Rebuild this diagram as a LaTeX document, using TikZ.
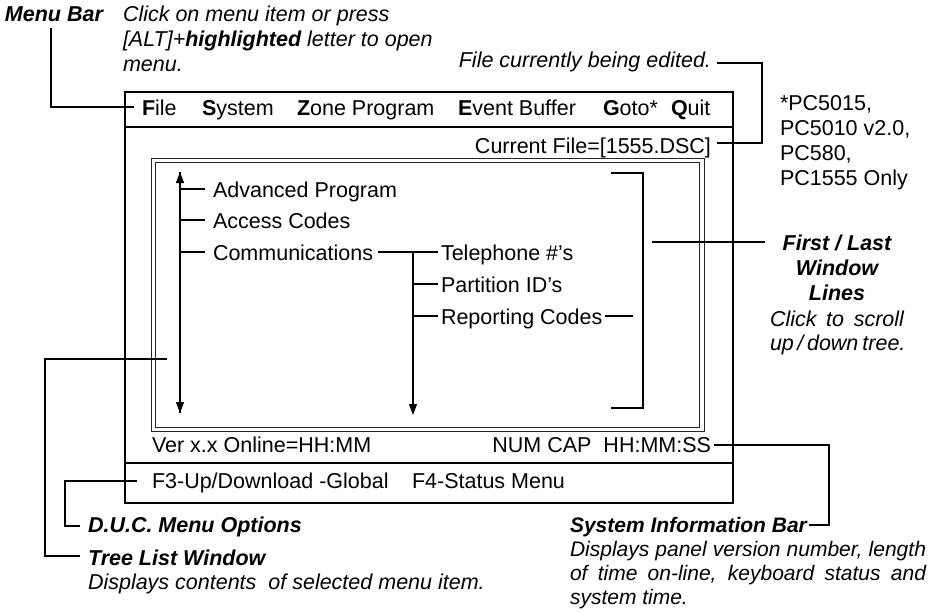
\documentclass[tikz,border=0pt]{standalone}
\usepackage{fontspec}
\setmainfont{Liberation Sans}
\usetikzlibrary{arrows.meta}
\tikzset{
  txt/.style={inner sep=0pt, outer sep=0pt, font=\fontsize{21.5}{25}\selectfont},
  note/.style={inner sep=0pt, outer sep=0pt, font=\fontsize{21.5}{25}\selectfont\itshape},
  head/.style={inner sep=0pt, outer sep=0pt, font=\fontsize{21.5}{25}\selectfont\bfseries\itshape},
  sinote/.style={inner sep=0pt, outer sep=0pt, font=\fontsize{21}{24}\selectfont\itshape},
  sihead/.style={inner sep=0pt, outer sep=0pt, font=\fontsize{21}{24}\selectfont\bfseries\itshape},
  conn/.style={line width=1.1pt},
  tree/.style={line width=1.2pt},
  tip/.style={-{Triangle[width=8pt,length=11pt]}},
  screen/.style={line width=2.5pt},
  sep/.style={line width=1.1pt},
  win/.style={line width=1pt, draw=black!85}
}
\begin{document}
\begin{tikzpicture}[x=1pt,y=-1pt]
\useasboundingbox (0,0) rectangle (929,611);

% screen frame
\draw[screen] (125,92) rectangle (733,503);
\coordinate (sepAl) at (125,127); \coordinate (sepAr) at (733,127);
\coordinate (sepBl) at (125,463); \coordinate (sepBr) at (733,463);
\draw[sep] (sepAl) -- (sepAr);
\draw[sep] (sepBl) -- (sepBr);
\draw[win] (151,158) rectangle (704,431);
\draw[win] (155,162) rectangle (699,427);

% menu bar
\node[txt, anchor=base west] (mfile) at (142,115) {{\bfseries F}ile};
\node[txt, anchor=base west] (msys) at (202,115) {{\bfseries S}ystem};
\node[txt, anchor=base west] (mzone) at (297,115) {{\bfseries Z}one Program};
\node[txt, anchor=base west] (mevent) at (458,115) {{\bfseries E}vent Buffer};
\node[txt, anchor=base west] (mgoto) at (603,115) {{\bfseries G}oto*};
\node[txt, anchor=base west] (mquit) at (671,115) {{\bfseries Q}uit};
\node[txt, anchor=base east] (curfile) at (711,153) {Current File=[1555.DSC]};

% tree list
\node[txt, anchor=base west] (adv) at (213,197) {Advanced Program};
\node[txt, anchor=base west] (acc) at (213,228) {Access Codes};
\node[txt, anchor=base west] (comm) at (213,260) {Communications};
\node[txt, anchor=base west] (tel) at (441,260) {Telephone \#'s};
\node[txt, anchor=base west] (part) at (441,292) {Partition ID's};
\node[txt, anchor=base west] (rep) at (441,324) {Reporting Codes};

\coordinate (lt) at (180,172); \coordinate (lb) at (180,413);
\draw[tree, tip] (lb) -- (lt);
\draw[tree, tip] (lt) -- (lb);
\coordinate (advL) at (180,189); \coordinate (advR) at (205,189);
\coordinate (accL) at (180,220); \coordinate (accR) at (205,220);
\coordinate (comL) at (180,252); \coordinate (comR) at (205,252);
\draw[tree] (advL) -- (advR);
\draw[tree] (accL) -- (accR);
\draw[tree] (comL) -- (comR);
\coordinate (c2b) at (438,252);
\draw[tree] ([xshift=5pt]comm.east |- c2b) -- (c2b);
\coordinate (st) at (413,252); \coordinate (sb) at (413,415);
\draw[tree, tip] (st) -- (sb);
\coordinate (ptL) at (413,284); \coordinate (ptR) at (438,284);
\coordinate (rpL) at (413,316); \coordinate (rpR) at (438,316);
\draw[tree] (ptL) -- (ptR);
\draw[tree] (rpL) -- (rpR);
\coordinate (rxB) at (633,316);
\draw[tree] ([xshift=3pt]rep.east |- rxB) -- (rxB);

% first / last bracket
\coordinate (bt) at (611,173); \coordinate (bb) at (611,408);
\coordinate (bx) at (643,0);
\draw[conn] (bt) -- (bt -| bx) -- (bb -| bx) -- (bb);
\coordinate (flA) at (652,242); \coordinate (flB) at (765,242);
\draw[conn] (flA) -- (flB);

% status lines
\node[txt, anchor=base west] (ver) at (152,452) {Ver x.x Online=HH:MM};
\node[txt, anchor=base east] (numcap) at (711,452) {NUM CAP\ \ HH:MM:SS};
\node[txt, anchor=base west] (f3) at (152,488) {F3-Up/Download -Global};
\node[txt, anchor=base west] (f4) at (412,488) {F4-Status Menu};

% callouts top
\node[head, anchor=base west] (menubar) at (5,21) {Menu Bar};
\node[note, anchor=base west] (md1) at (123,21) {Click on menu item or press};
\node[note, anchor=base west] (md2) at (123,46) {[ALT]+{\bfseries highlighted} letter to open};
\node[note, anchor=base west] (md3) at (123,71) {menu.};
\coordinate (mbT) at (51,28); \coordinate (mbE) at (134,107);
\draw[conn] (mbT) |- (mbE);

\node[note, anchor=base east] (fced) at (711,67) {File currently being edited.};
\coordinate (feA) at (717,63); \coordinate (feB) at (762,63);
\coordinate (feC) at (717,143);
\draw[conn] (feA) -- (feB) |- (feC);

\node[txt, anchor=base west] (pc1) at (780,110) {*PC5015,};
\node[txt, anchor=base west] (pc2) at (780,135) {PC5010 v2.0,};
\node[txt, anchor=base west] (pc3) at (780,160) {PC580,};
\node[txt, anchor=base west] (pc4) at (780,185) {PC1555 Only};

\node[head, anchor=base] (fl1) at (837,250) {First / Last};
\node[head, anchor=base] (fl2) at (837,275) {Window};
\node[head, anchor=base] (fl3) at (837,300) {Lines};
\node[note, anchor=base] (fl4) at (837,326) {\makebox[134pt][s]{Click to scroll}};
\node[note, anchor=base] (fl5) at (837,350) {\makebox[134pt][s]{up\,/\,down tree.}};

% callouts bottom
\coordinate (tlA) at (167,359); \coordinate (tlX) at (45,0);
\coordinate (tlE) at (80,556);
\draw[conn] (tlA) -- (tlA -| tlX) |- (tlE);
\node[head, anchor=base west] (tlw) at (88,565) {Tree List Window};
\node[note, anchor=base west] (tlwd) at (88,589) {Displays contents\ \ of selected menu item.};

\coordinate (duA) at (137,481); \coordinate (duX) at (65,0);
\coordinate (duE) at (80,526);
\draw[conn] (duA) -- (duA -| duX) |- (duE);
\node[head, anchor=base west] (duc) at (88,532) {D.U.C. Menu Options};

\node[sihead, anchor=base west] (sib) at (570,532) {System Information Bar};
\coordinate (siA) at (714,445); \coordinate (siX) at (829,0);
\draw[conn] (siA) -- (siA -| siX) |- ([xshift=2pt]sib.east |- 0,525);
\node[sinote, anchor=base west] (sd1) at (570,556) {\makebox[356pt][s]{Displays panel version number, length}};
\node[sinote, anchor=base west] (sd2) at (570,580) {\makebox[356pt][s]{of time on-line, keyboard status and}};
\node[sinote, anchor=base west] (sd3) at (570,604) {system time.};
\end{tikzpicture}
\end{document}
